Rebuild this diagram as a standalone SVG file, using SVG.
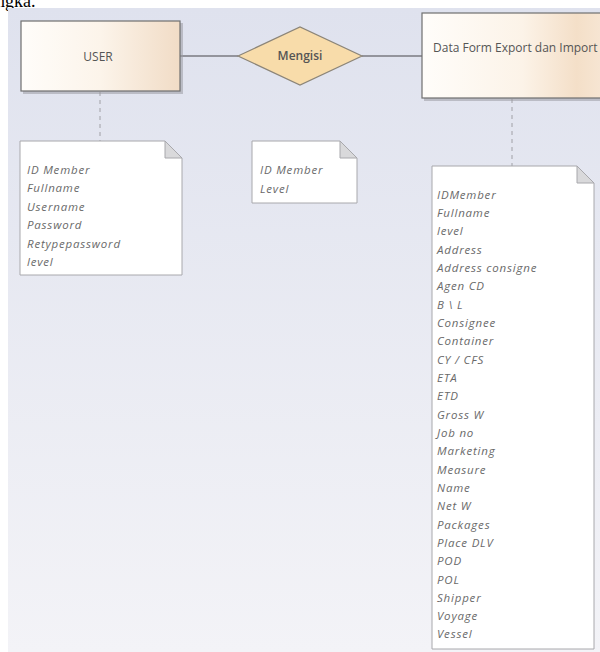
<svg xmlns="http://www.w3.org/2000/svg" width="600" height="652" viewBox="0 0 600 652">
  <defs>
    <linearGradient id="canvasBg" x1="0" y1="0" x2="0" y2="1">
      <stop offset="0" stop-color="#dfe2ee"/>
      <stop offset="1" stop-color="#f3f3f7"/>
    </linearGradient>
    <linearGradient id="entityFill" x1="0" y1="0" x2="1" y2="0">
      <stop offset="0" stop-color="#fffdfa"/>
      <stop offset="0.5" stop-color="#fcf4ea"/>
      <stop offset="1" stop-color="#f1dcc6"/>
    </linearGradient>
    <linearGradient id="entityFillWide" x1="0" y1="0" x2="1" y2="0">
      <stop offset="0" stop-color="#fffdfa"/>
      <stop offset="0.55" stop-color="#fcf3e8"/>
      <stop offset="0.85" stop-color="#f4dfc8"/>
      <stop offset="1" stop-color="#f7e6d4"/>
    </linearGradient>
  </defs>
  <style>
    .entity { stroke: #6f6f6f; stroke-width: 1.2; }
    .shadow { fill: #9a9aa2; opacity: 0.55; }
    .label { font-family: "Open Sans", "Liberation Sans", sans-serif; font-size: 12px; fill: #555555; }
    .note { fill: #ffffff; stroke: #a8a8ac; stroke-width: 1; }
    .fold { fill: #d9d9db; stroke: #a8a8ac; stroke-width: 1; }
    .attr { font-family: "Open Sans", "Liberation Sans", sans-serif; font-size: 11.5px; font-style: italic; fill: #6a6a6a; letter-spacing: 0.8px; }
    .link { stroke: #7a7a80; stroke-width: 1.6; fill: none; }
    .anchor { stroke: #a0a0a6; stroke-width: 1; stroke-dasharray: 4 4; fill: none; }
  </style>

  <!-- page text above the canvas -->
  <text x="-4" y="7" font-family="Liberation Serif, serif" font-size="18" fill="#000">ngka.</text>

  <!-- diagram canvas -->
  <rect x="8" y="8" width="592" height="644" fill="url(#canvasBg)"/>

  <g id="connectors">
    <line class="link" x1="180" y1="56" x2="238" y2="56"/>
    <line class="link" x1="362" y1="56" x2="422" y2="56"/>
    <line class="anchor" x1="100" y1="92" x2="100" y2="141"/>
    <line class="anchor" x1="512" y1="99" x2="512" y2="166"/>
  </g>

  <g id="user">
    <rect class="shadow" x="23" y="23" width="160" height="71"/>
    <rect class="entity" x="21" y="21" width="159" height="70" fill="url(#entityFill)"/>
    <text class="label" x="98" y="61" text-anchor="middle">USER</text>
  </g>

  <g id="mengisi">
    <polygon points="238,56 300,27 362,56 300,85" fill="#f8dcaa" stroke="#8c8578" stroke-width="1.2"/>
    <text class="label" x="300" y="60" text-anchor="middle" font-weight="600">Mengisi</text>
  </g>

  <g id="data-form">
    <rect class="shadow" x="424" y="15" width="180" height="86"/>
    <rect class="entity" x="422" y="13" width="182" height="85" fill="url(#entityFillWide)"/>
    <text class="label" x="433" y="52">Data Form Export dan Import</text>
  </g>

  <g id="note-user">
    <path class="note" d="M20,141 H165 L182,158 V275 H20 Z"/>
    <path class="fold" d="M165,141 V158 H182 Z"/>
    <text class="attr" x="27" y="174">ID Member</text>
    <text class="attr" x="27" y="192">Fullname</text>
    <text class="attr" x="27" y="211">Username</text>
    <text class="attr" x="27" y="229">Password</text>
    <text class="attr" x="27" y="248">Retypepassword</text>
    <text class="attr" x="27" y="266">level</text>
  </g>

  <g id="note-mengisi">
    <path class="note" d="M252,141 H340 L357,158 V203 H252 Z"/>
    <path class="fold" d="M340,141 V158 H357 Z"/>
    <text class="attr" x="260" y="174">ID Member</text>
    <text class="attr" x="260" y="193">Level</text>
  </g>

  <g id="note-data-form">
    <path class="note" d="M432,166 H577 L594,183 V649 H432 Z"/>
    <path class="fold" d="M577,166 V183 H594 Z"/>
    <text class="attr" x="437" y="199">IDMember</text>
    <text class="attr" x="437" y="217">Fullname</text>
    <text class="attr" x="437" y="235">level</text>
    <text class="attr" x="437" y="254">Address</text>
    <text class="attr" x="437" y="272">Address consigne</text>
    <text class="attr" x="437" y="290">Agen CD</text>
    <text class="attr" x="437" y="309">B \ L</text>
    <text class="attr" x="437" y="327">Consignee</text>
    <text class="attr" x="437" y="345">Container</text>
    <text class="attr" x="437" y="364">CY / CFS</text>
    <text class="attr" x="437" y="382">ETA</text>
    <text class="attr" x="437" y="400">ETD</text>
    <text class="attr" x="437" y="419">Gross W</text>
    <text class="attr" x="437" y="437">Job no</text>
    <text class="attr" x="437" y="455">Marketing</text>
    <text class="attr" x="437" y="474">Measure</text>
    <text class="attr" x="437" y="492">Name</text>
    <text class="attr" x="437" y="510">Net W</text>
    <text class="attr" x="437" y="529">Packages</text>
    <text class="attr" x="437" y="547">Place DLV</text>
    <text class="attr" x="437" y="565">POD</text>
    <text class="attr" x="437" y="584">POL</text>
    <text class="attr" x="437" y="602">Shipper</text>
    <text class="attr" x="437" y="620">Voyage</text>
    <text class="attr" x="437" y="638">Vessel</text>
  </g>
</svg>
